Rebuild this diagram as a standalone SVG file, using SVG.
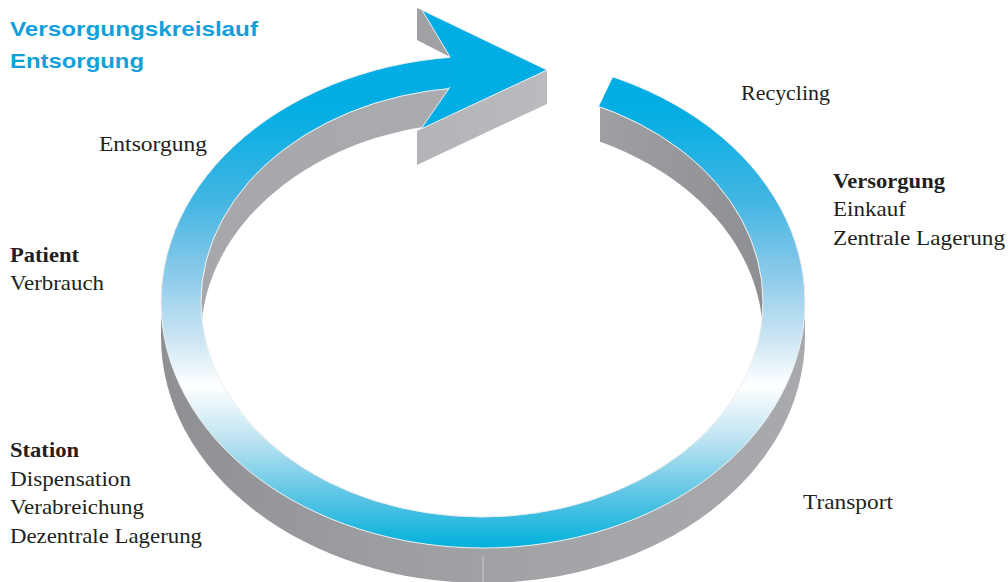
<svg xmlns="http://www.w3.org/2000/svg" width="1008" height="582" viewBox="0 0 1008 582">
<style>
.lbl{font-family:"Liberation Serif","Times New Roman",serif;font-size:21px;fill:#231F20}
.b{font-weight:bold}
.title{font-family:"Liberation Sans",Arial,sans-serif;font-size:21px;font-weight:bold;fill:#12A0DA}
.edge{fill:none;stroke:#EEEEEE;stroke-width:1}
</style>
<defs>
<linearGradient id="blueTop" gradientUnits="userSpaceOnUse" x1="0" y1="56" x2="0" y2="548">
<stop offset="0" stop-color="#00ADE5"/>
<stop offset="0.12" stop-color="#05AEE3"/>
<stop offset="0.3" stop-color="#45B6E2"/>
<stop offset="0.45" stop-color="#8FCBEA"/>
<stop offset="0.58" stop-color="#CDE7F4"/>
<stop offset="0.67" stop-color="#FFFFFF"/>
<stop offset="0.78" stop-color="#BDE3F1"/>
<stop offset="0.9" stop-color="#56C3E4"/>
<stop offset="1" stop-color="#00B1DB"/>
</linearGradient>
<linearGradient id="outerWall" gradientUnits="userSpaceOnUse" x1="161" y1="0" x2="805" y2="0">
<stop offset="0" stop-color="#8F9094"/>
<stop offset="0.3" stop-color="#9B9CA0"/>
<stop offset="0.6" stop-color="#A3A4A8"/>
<stop offset="1" stop-color="#A9AAAE"/>
</linearGradient>
<linearGradient id="innerWall" gradientUnits="userSpaceOnUse" x1="201" y1="0" x2="763" y2="0">
<stop offset="0" stop-color="#A6A7AB"/>
<stop offset="0.5" stop-color="#ABACB0"/>
<stop offset="0.75" stop-color="#9C9DA1"/>
<stop offset="1" stop-color="#8E8F93"/>
</linearGradient>
<linearGradient id="headFace" gradientUnits="userSpaceOnUse" x1="417" y1="0" x2="547" y2="0">
<stop offset="0" stop-color="#B3B4B8"/>
<stop offset="1" stop-color="#BABBBF"/>
</linearGradient>
<clipPath id="gapTop">
<path clip-rule="evenodd" d="M0,0 H1008 V582 H0 Z M455,0 L650,0 L613,77 L600,104 L583,140 L455,140 Z"/>
</clipPath>
<clipPath id="gapWall">
<path clip-rule="evenodd" d="M0,0 H1008 V582 H0 Z M455,0 L600,0 L600,160 L455,160 Z"/>
</clipPath>
<clipPath id="innerClip">
<ellipse cx="482" cy="302" rx="281" ry="215"/>
</clipPath>
</defs>

<g id="cycle-arrow">
  <path fill="url(#outerWall)" d="M161,302 A322,246 0 0 0 805,302 L805,337 A322,246 0 0 1 161,337 Z"/>
  <line x1="483" y1="556" x2="483" y2="582" stroke="#C9CACD" stroke-width="1"/>
  <g clip-path="url(#gapWall)">
    <g clip-path="url(#innerClip)">
      <ellipse cx="482" cy="302" rx="281" ry="215" fill="url(#innerWall)"/>
      <ellipse cx="482" cy="337" rx="281" ry="215" fill="#FFFFFF"/>
    </g>
  </g>
  <g clip-path="url(#gapTop)">
    <path fill="url(#blueTop)" fill-rule="evenodd" d="M161,302 A322,246 0 1 1 805,302 A322,246 0 1 1 161,302 Z M201,302 A281,215 0 1 0 763,302 A281,215 0 1 0 201,302 Z"/>
    <ellipse class="edge" cx="483" cy="302" rx="322" ry="246"/>
    <ellipse class="edge" cx="482" cy="302" rx="281" ry="215"/>
  </g>
</g>

<g id="arrow-head">
  <polygon fill="#A0A1A5" points="417,8 422,10 450,57 417,40"/>
  <polygon fill="url(#headFace)" points="417,131 421,129 547,70 547,104 417,165"/>
  <polygon fill="#00ADE5" points="422,10 547,70 421,129 450,87 450,57"/>
  <polyline class="edge" points="450,57 422,10 547,70 421,129 450,87"/>
</g>

<g id="title">
  <text class="title" x="10" y="36" textLength="248" lengthAdjust="spacingAndGlyphs">Versorgungskreislauf</text>
  <text class="title" x="10" y="68" textLength="134" lengthAdjust="spacingAndGlyphs">Entsorgung</text>
</g>

<g id="node-recycling">
  <text class="lbl" x="741" y="100" textLength="89" lengthAdjust="spacingAndGlyphs">Recycling</text>
</g>
<g id="node-versorgung">
  <text class="lbl b" x="833" y="188" textLength="112" lengthAdjust="spacingAndGlyphs">Versorgung</text>
  <text class="lbl" x="833" y="216" textLength="73" lengthAdjust="spacingAndGlyphs">Einkauf</text>
  <text class="lbl" x="833" y="245" textLength="172" lengthAdjust="spacingAndGlyphs">Zentrale Lagerung</text>
</g>
<g id="node-transport">
  <text class="lbl" x="803" y="509" textLength="90" lengthAdjust="spacingAndGlyphs">Transport</text>
</g>
<g id="node-station">
  <text class="lbl b" x="10" y="457" textLength="69" lengthAdjust="spacingAndGlyphs">Station</text>
  <text class="lbl" x="10" y="486" textLength="121" lengthAdjust="spacingAndGlyphs">Dispensation</text>
  <text class="lbl" x="10" y="514" textLength="134" lengthAdjust="spacingAndGlyphs">Verabreichung</text>
  <text class="lbl" x="10" y="543" textLength="192" lengthAdjust="spacingAndGlyphs">Dezentrale Lagerung</text>
</g>
<g id="node-patient">
  <text class="lbl b" x="10" y="262" textLength="69" lengthAdjust="spacingAndGlyphs">Patient</text>
  <text class="lbl" x="10" y="290" textLength="94" lengthAdjust="spacingAndGlyphs">Verbrauch</text>
</g>
<g id="node-entsorgung">
  <text class="lbl" x="99" y="151" textLength="108" lengthAdjust="spacingAndGlyphs">Entsorgung</text>
</g>
</svg>
